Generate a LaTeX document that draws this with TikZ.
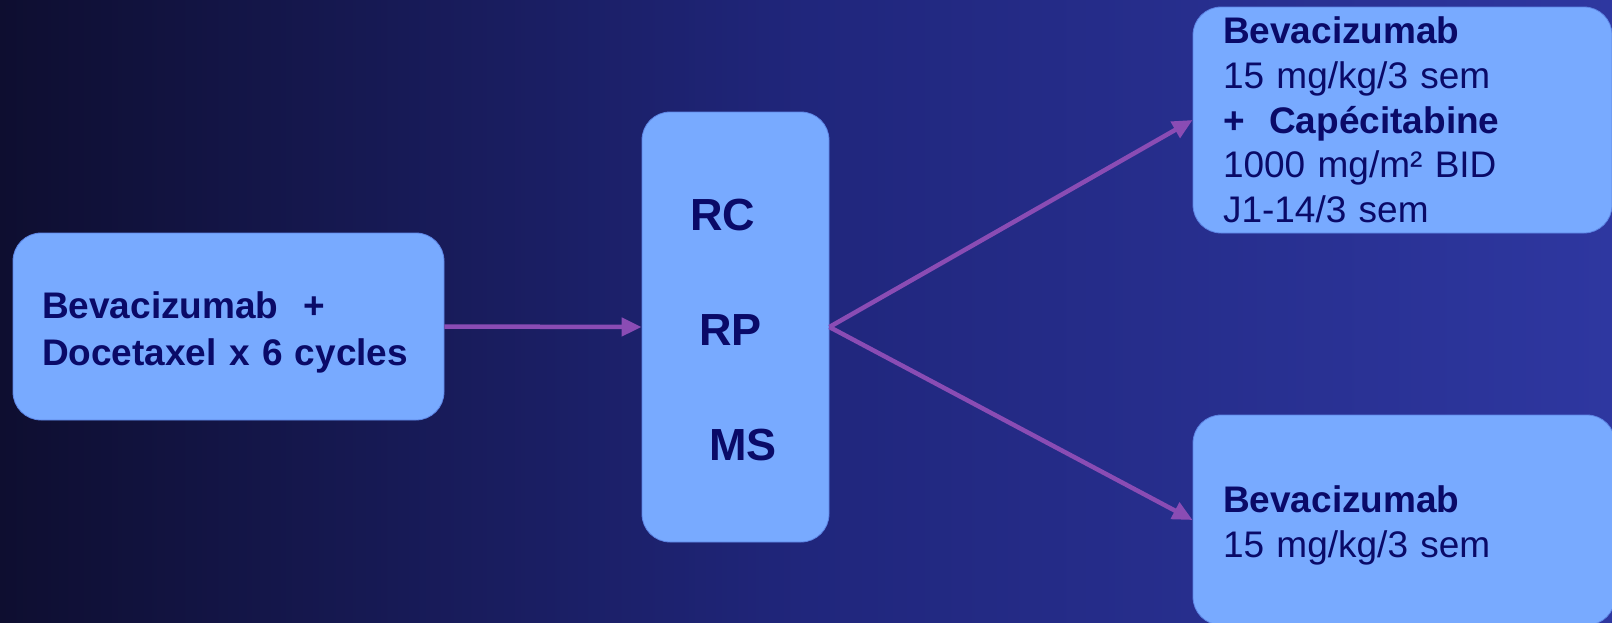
\documentclass[tikz,border=0pt]{standalone}
\usepackage{fontspec}
\setmainfont{Liberation Sans}
\usetikzlibrary{arrows.meta}

\definecolor{bgdark}{HTML}{0E0E30}
\definecolor{bgmid}{HTML}{20267C}
\definecolor{bglight}{HTML}{2E37A0}
\definecolor{boxfill}{HTML}{78AAFF}
\definecolor{boxline}{HTML}{5C84E4}
\definecolor{textnavy}{HTML}{0A0A68}
\definecolor{armpurple}{HTML}{8A4CB4}

\begin{document}
\begin{tikzpicture}[x=1pt, y=-1pt,
	box/.style={draw=boxline, fill=boxfill, line width=0.8pt, rounded corners=28pt, inner sep=0pt, text=textnavy, align=left},
	big/.style={font=\fontsize{45}{54}\selectfont\bfseries, text=textnavy, inner sep=0pt},
	link/.style={draw=armpurple, line width=4.5pt, -{Triangle[length=20pt, width=18pt]}}]

			\useasboundingbox (0,0) rectangle (1612,622);
			\shade[left color=bgdark, right color=bglight, middle color=bgmid] (0,0) rectangle (1612,622);

			\node[box, minimum width=431pt, minimum height=187pt, text width=373pt, text height=38pt, font=\fontsize{37}{47}\selectfont\bfseries] (start) at (228.5,326.5) {Bevacizumab\ \ +\\Docetaxel x 6 cycles};

			\node[box, minimum width=187pt, minimum height=430pt] (arms) at (735.5,327) {};
			\node[big, anchor=base west] (rc) at (690,230) {RC};
			\node[big, anchor=base west] (rp) at (699,345) {RP};
			\node[big, anchor=base west] (ms) at (709,460) {MS};

			\node[box, minimum width=419pt, minimum height=226pt, text width=359pt, font=\fontsize{37}{44.75}\selectfont] (armA) at (1402.5,120) {\textbf{Bevacizumab}\\15 mg/kg/3 sem\\\textbf{+\ \ Capécitabine}\\1000 mg/m² BID\\J1-14/3 sem};
			\node[box, minimum width=422pt, minimum height=210pt, text width=362pt, text height=38pt, font=\fontsize{37}{45}\selectfont] (armB) at (1404,520) {\textbf{Bevacizumab}\\15 mg/kg/3 sem};

			\draw[link] (start.east) -- (arms.west); % vers RC/RP/MS
			\draw[link] (arms.east) -- (armA.west); % bras A
			\draw[link] (arms.east) -- (armB.west); % bras B

		\end{tikzpicture}
\end{document}
